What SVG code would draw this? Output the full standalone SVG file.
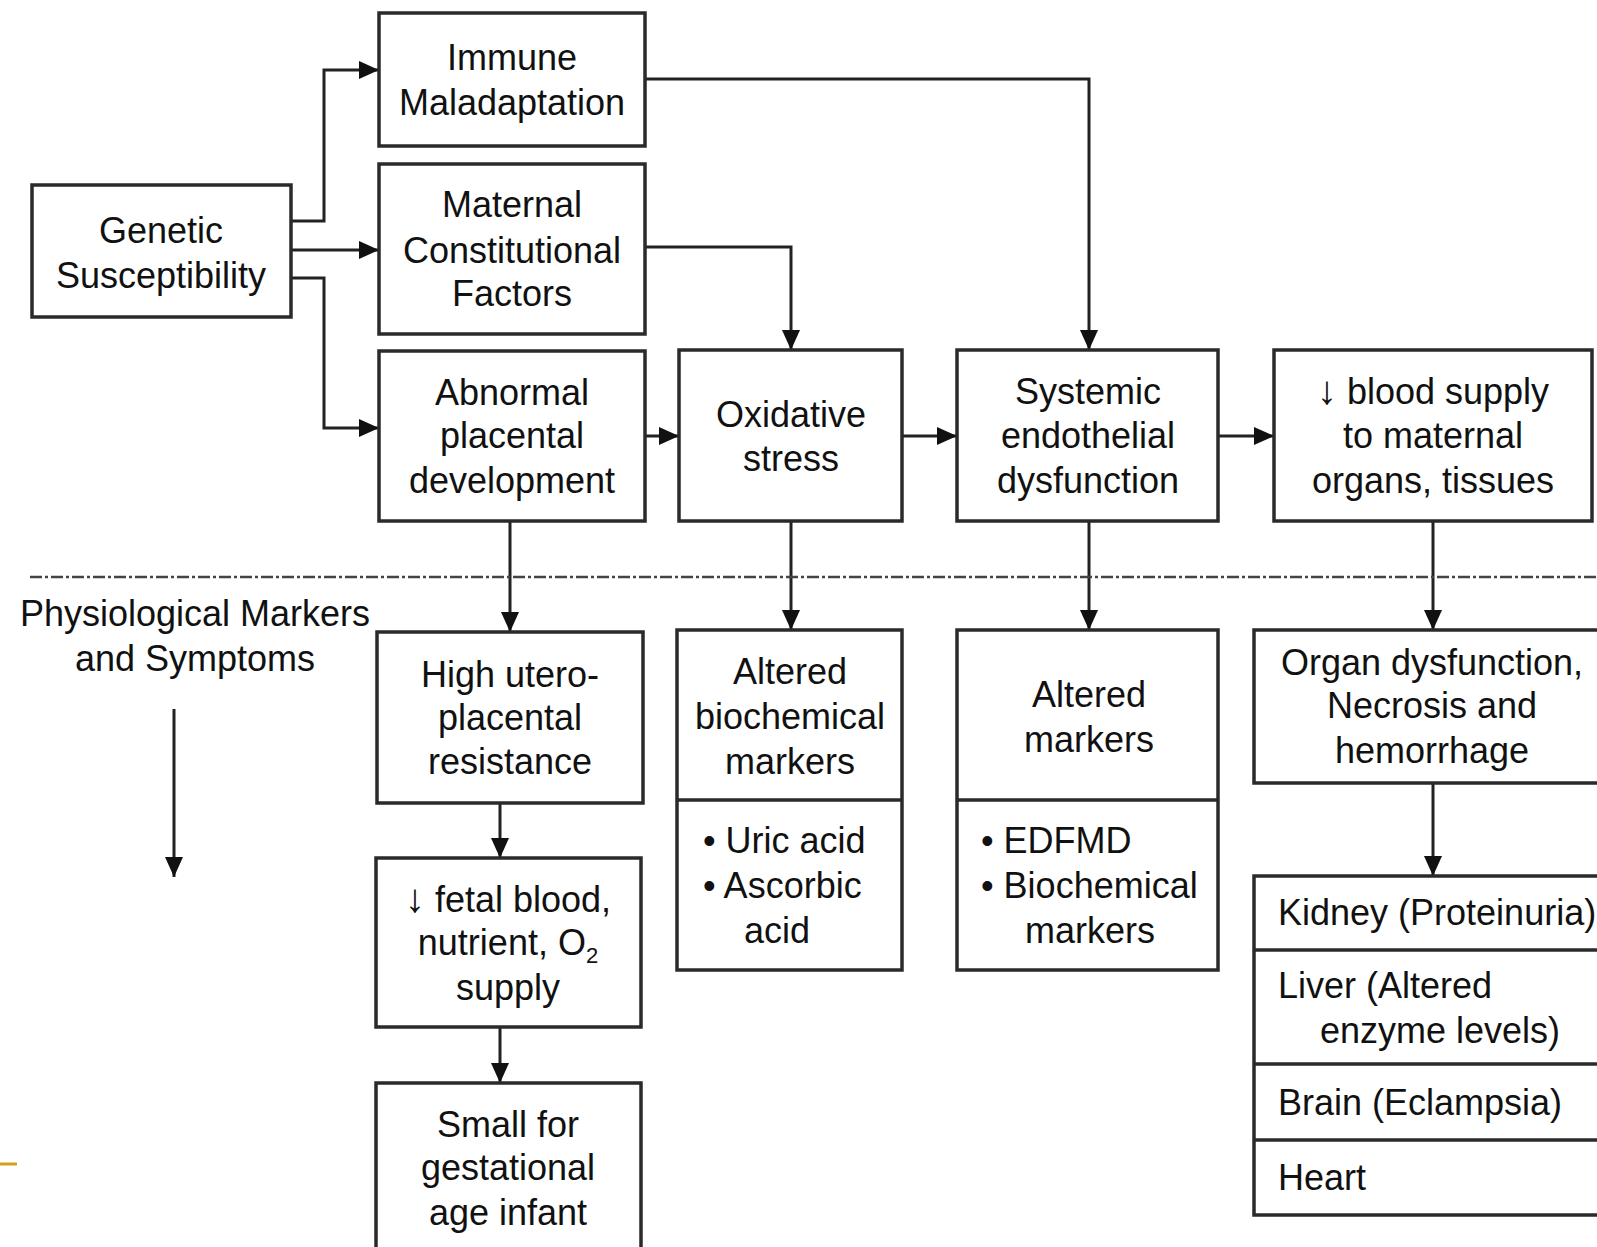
<svg xmlns="http://www.w3.org/2000/svg" width="1597" height="1247" viewBox="0 0 1597 1247">
<defs>
<style>
.box{fill:#fff;stroke:#2a2a2a;stroke-width:3.5}
.ln{fill:none;stroke:#2a2a2a;stroke-width:3.5}
.c{fill:none;stroke:#222;stroke-width:3;marker-end:url(#ah)}
text{font-family:"Liberation Sans",Arial,sans-serif;font-size:36px;fill:#111}
.m{text-anchor:middle}
.ar{font-size:40px}
</style>
<marker id="ah" viewBox="0 0 20 18" refX="20" refY="9" markerWidth="20" markerHeight="18" markerUnits="userSpaceOnUse" orient="auto">
<path d="M0,0 L20,9 L0,18 Z" fill="#111"/>
</marker>
</defs>
<rect width="1597" height="1247" fill="#fff"/>

<g id="connectors">
<path class="c" d="M291,221 H324 V70 H379"/>
<path class="c" d="M291,250 H379"/>
<path class="c" d="M291,278 H324 V428 H379"/>
<path class="c" d="M645,79 H1089 V350"/>
<path class="c" d="M645,247 H791 V350"/>
<path class="c" d="M645,436 H679"/>
<path class="c" d="M902,436 H957"/>
<path class="c" d="M1218,436 H1274"/>
<path class="c" d="M510,521 V632"/>
<path class="c" d="M791,521 V630"/>
<path class="c" d="M1089,521 V630"/>
<path class="c" d="M1433,521 V630"/>
<path class="c" d="M500,803 V858"/>
<path class="c" d="M500,1027 V1083"/>
<path class="c" d="M1433,782 V876"/>
<path class="c" d="M174,709 V877"/>
</g>

<g id="divider">
<line x1="30" y1="577" x2="1597" y2="577" stroke="#444" stroke-width="2.5" stroke-dasharray="12 3 3 3"/>
<line x1="0" y1="1164" x2="17" y2="1164" stroke="#d4a017" stroke-width="3"/>
<text class="m" x="195" y="626">Physiological Markers</text>
<text class="m" x="195" y="671">and Symptoms</text>
</g>

<g id="genetic">
<rect class="box" x="32" y="185" width="259" height="132"/>
<text class="m" x="161" y="243">Genetic</text>
<text class="m" x="161" y="288">Susceptibility</text>
</g>

<g id="immune">
<rect class="box" x="379" y="13" width="266" height="133"/>
<text class="m" x="512" y="70">Immune</text>
<text class="m" x="512" y="115">Maladaptation</text>
</g>

<g id="maternal">
<rect class="box" x="379" y="164" width="266" height="170"/>
<text class="m" x="512" y="217">Maternal</text>
<text class="m" x="512" y="263">Constitutional</text>
<text class="m" x="512" y="306">Factors</text>
</g>

<g id="abnormal">
<rect class="box" x="379" y="351" width="266" height="170"/>
<text class="m" x="512" y="405">Abnormal</text>
<text class="m" x="512" y="448">placental</text>
<text class="m" x="512" y="493">development</text>
</g>

<g id="oxidative">
<rect class="box" x="679" y="350" width="223" height="171"/>
<text class="m" x="791" y="427">Oxidative</text>
<text class="m" x="791" y="471">stress</text>
</g>

<g id="systemic">
<rect class="box" x="957" y="350" width="261" height="171"/>
<text class="m" x="1088" y="404">Systemic</text>
<text class="m" x="1088" y="448">endothelial</text>
<text class="m" x="1088" y="493">dysfunction</text>
</g>

<g id="blood">
<rect class="box" x="1274" y="350" width="318" height="171"/>
<text class="m" x="1433" y="404"><tspan class="ar">↓</tspan> blood supply</text>
<text class="m" x="1433" y="448">to maternal</text>
<text class="m" x="1433" y="493">organs, tissues</text>
</g>

<g id="high">
<rect class="box" x="377" y="632" width="266" height="171"/>
<text class="m" x="510" y="687">High utero-</text>
<text class="m" x="510" y="730">placental</text>
<text class="m" x="510" y="774">resistance</text>
</g>

<g id="fetal">
<rect class="box" x="376" y="858" width="265" height="169"/>
<text class="m" x="508" y="912"><tspan class="ar">↓</tspan> fetal blood,</text>
<text class="m" x="508" y="955">nutrient, O<tspan font-size="22" dy="8">2</tspan></text>
<text class="m" x="508" y="1000">supply</text>
</g>

<g id="small">
<rect class="box" x="376" y="1083" width="265" height="180"/>
<text class="m" x="508" y="1137">Small for</text>
<text class="m" x="508" y="1180">gestational</text>
<text class="m" x="508" y="1225">age infant</text>
</g>

<g id="biochem">
<rect class="box" x="677" y="630" width="225" height="340"/>
<line class="ln" x1="677" y1="800" x2="902" y2="800"/>
<text class="m" x="790" y="684">Altered</text>
<text class="m" x="790" y="729">biochemical</text>
<text class="m" x="790" y="774">markers</text>
<text x="703" y="853">• Uric acid</text>
<text x="703" y="898">• Ascorbic</text>
<text x="744" y="943">acid</text>
</g>

<g id="markers">
<rect class="box" x="957" y="630" width="261" height="340"/>
<line class="ln" x1="957" y1="800" x2="1218" y2="800"/>
<text class="m" x="1089" y="707">Altered</text>
<text class="m" x="1089" y="752">markers</text>
<text x="981" y="853">• EDFMD</text>
<text x="981" y="898">• Biochemical</text>
<text class="m" x="1090" y="943">markers</text>
</g>

<g id="organ">
<rect class="box" x="1254" y="630" width="360" height="153"/>
<text class="m" x="1432" y="675">Organ dysfunction,</text>
<text class="m" x="1432" y="718">Necrosis and</text>
<text class="m" x="1432" y="763">hemorrhage</text>
</g>

<g id="organs-list">
<rect class="box" x="1254" y="876" width="360" height="339"/>
<line class="ln" x1="1254" y1="950" x2="1600" y2="950"/>
<line class="ln" x1="1254" y1="1064" x2="1600" y2="1064"/>
<line class="ln" x1="1254" y1="1140" x2="1600" y2="1140"/>
<text x="1278" y="925">Kidney (Proteinuria)</text>
<text x="1278" y="998">Liver (Altered</text>
<text x="1320" y="1043">enzyme levels)</text>
<text x="1278" y="1115">Brain (Eclampsia)</text>
<text x="1278" y="1190">Heart</text>
</g>
</svg>
